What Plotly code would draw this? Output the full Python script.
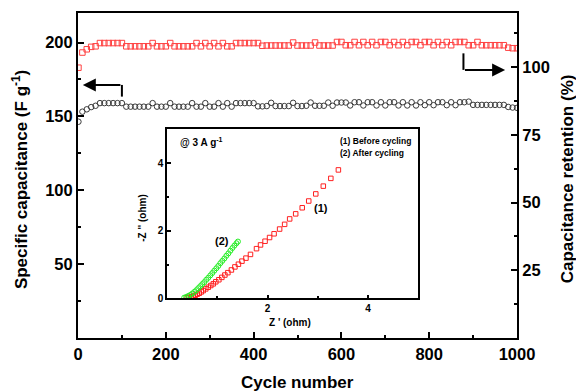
import plotly.graph_objects as go

# ---------------- data ----------------
cycles = [1, 10, 20, 30, 40, 50, 60, 70, 80, 90,
          100, 110, 120, 130, 140, 150, 160, 170, 180, 190,
          200, 210, 220, 230, 240, 250, 260, 270, 280, 290,
          300, 310, 320, 330, 340, 350, 360, 370, 380, 390,
          400, 410, 420, 430, 440, 450, 460, 470, 480, 490,
          500, 510, 520, 530, 540, 550, 560, 570, 580, 590,
          600, 610, 620, 630, 640, 650, 660, 670, 680, 690,
          700, 710, 720, 730, 740, 750, 760, 770, 780, 790,
          800, 810, 820, 830, 840, 850, 860, 870, 880, 890,
          900, 910, 920, 930, 940, 950, 960, 970, 980, 990,
          1000]

capacitance = [146.4, 153.2, 154.8, 156.3, 157.2, 159.0, 159.0, 159.0, 159.0, 159.0,
               159.0, 156.6, 156.6, 156.6, 156.6, 156.6, 156.6, 159.0, 156.6, 156.6,
               156.6, 159.0, 156.6, 156.6, 156.6, 156.6, 159.0, 156.6, 156.6, 159.0,
               156.6, 156.6, 159.0, 156.6, 159.0, 156.6, 159.0, 159.0, 159.0, 159.0,
               159.0, 156.8, 156.8, 157.0, 159.2, 157.0, 157.0, 157.0, 157.0, 159.2,
               157.0, 157.0, 157.2, 159.4, 157.2, 157.2, 157.2, 159.4, 157.2, 159.4,
               159.4, 159.4, 157.4, 159.6, 159.6, 157.4, 159.6, 159.6, 157.4, 159.6,
               157.4, 159.6, 159.6, 157.4, 159.6, 157.4, 159.6, 157.4, 159.6, 157.6,
               159.6, 157.6, 159.6, 159.6, 157.6, 159.6, 157.6, 159.6, 159.6, 160.0,
               157.8, 157.8, 157.8, 157.8, 157.8, 157.8, 157.8, 157.8, 156.4, 156.0,
               155.8]

retention = [99.8, 105.4, 106.6, 107.5, 107.7, 108.9, 108.9, 108.9, 108.9, 108.9,
             108.9, 107.7, 107.7, 107.7, 107.7, 107.7, 107.7, 108.9, 107.7, 107.7,
             107.7, 108.9, 107.7, 107.7, 107.7, 107.7, 107.7, 108.9, 107.7, 108.9,
             107.7, 108.9, 107.7, 108.9, 107.7, 107.7, 108.9, 108.9, 108.9, 108.9,
             108.9, 108.9, 107.9, 108.0, 108.0, 108.0, 108.0, 108.0, 108.0, 109.1,
             108.0, 108.0, 108.0, 108.0, 109.1, 108.0, 108.0, 108.0, 108.0, 109.3,
             109.3, 108.1, 108.1, 109.3, 108.1, 109.3, 108.1, 109.3, 108.1, 109.3,
             109.3, 108.1, 109.3, 108.1, 109.3, 108.1, 109.3, 109.3, 108.1, 109.3,
             109.3, 108.1, 109.3, 108.1, 109.3, 108.1, 109.3, 109.3, 109.3, 108.1,
             108.1, 109.3, 108.1, 108.1, 108.1, 108.1, 108.1, 108.1, 107.2, 107.0,
             107.0]

# Inset: Nyquist data
before_zre = [0.40, 0.44, 0.48, 0.52, 0.56, 0.60, 0.64, 0.68, 0.72, 0.77,
              0.82, 0.87, 0.92, 0.97, 1.03, 1.09, 1.15, 1.21, 1.28, 1.35,
              1.42, 1.49, 1.57, 1.66, 1.78, 1.86, 1.95, 2.04, 2.13, 2.24,
              2.34, 2.44, 2.56, 2.69, 2.82, 2.96, 3.11, 3.26, 3.41]
before_zim = [0.02, 0.03, 0.05, 0.07, 0.09, 0.12, 0.15, 0.19, 0.23, 0.28,
              0.33, 0.38, 0.43, 0.49, 0.55, 0.62, 0.69, 0.76, 0.84, 0.93,
              1.01, 1.10, 1.19, 1.30, 1.47, 1.58, 1.69, 1.80, 1.91, 2.05,
              2.19, 2.35, 2.50, 2.68, 2.88, 3.09, 3.32, 3.55, 3.80]

after_zre = [0.34, 0.38, 0.42, 0.46, 0.50, 0.54, 0.58, 0.62, 0.66, 0.70,
             0.74, 0.78, 0.82, 0.86, 0.90, 0.94, 0.98, 1.02, 1.06, 1.10,
             1.14, 1.18, 1.22, 1.26, 1.30, 1.34, 1.38, 1.41]
after_zim = [0.02, 0.04, 0.07, 0.10, 0.14, 0.19, 0.24, 0.30, 0.36, 0.42,
             0.48, 0.55, 0.61, 0.68, 0.75, 0.82, 0.89, 0.96, 1.04, 1.11,
             1.18, 1.26, 1.33, 1.41, 1.49, 1.56, 1.63, 1.68]

x_ticks = [0, 200, 400, 600, 800, 1000]
y1_ticks = [50, 100, 150, 200]
y2_ticks = [25, 50, 75, 100]

FONT = "Liberation Sans"

fig = go.Figure()

fig.add_trace(go.Scatter(x=cycles, y=capacitance, mode="markers",
                         marker=dict(symbol="circle-open", size=5.5, color="#3a3a3a",
                                     line=dict(width=1, color="#3a3a3a")),
                         xaxis="x", yaxis="y", showlegend=False))
fig.add_trace(go.Scatter(x=cycles, y=retention, mode="markers",
                         marker=dict(symbol="square-open", size=5.5, color="#ff4040",
                                     line=dict(width=1, color="#ff4040")),
                         xaxis="x", yaxis="y2", showlegend=False))
fig.add_trace(go.Scatter(x=before_zre, y=before_zim, mode="markers",
                         marker=dict(symbol="square-open", size=4.5, color="#ff2020",
                                     line=dict(width=1, color="#ff2020")),
                         xaxis="x3", yaxis="y3", showlegend=False))
fig.add_trace(go.Scatter(x=after_zre, y=after_zim, mode="markers",
                         marker=dict(symbol="circle-open", size=5, color="#22ee22",
                                     line=dict(width=1, color="#22ee22")),
                         xaxis="x3", yaxis="y3", showlegend=False))

tickfont_main = dict(family=FONT, size=16.5, color="black", weight="bold")
tickfont_in = dict(family=FONT, size=10, color="black", weight="bold")

fig.update_layout(
    width=576, height=392,
    margin=dict(l=78, r=59, t=13, b=54),
    paper_bgcolor="white", plot_bgcolor="white",
    xaxis=dict(range=[0, 1000], tickvals=x_ticks, ticks="inside", ticklen=6, tickwidth=2,
               minor=dict(dtick=100, tick0=0, ticks="inside", ticklen=3, tickwidth=2),
               showline=True, linewidth=2, linecolor="black", mirror=True,
               showgrid=False, zeroline=False, tickfont=tickfont_main, tickcolor="black"),
    yaxis=dict(range=[0, 220], tickvals=y1_ticks, ticks="inside", ticklen=6, tickwidth=2,
               minor=dict(dtick=25, tick0=0, ticks="inside", ticklen=3, tickwidth=2),
               showline=True, linewidth=2, linecolor="black",
               showgrid=False, zeroline=False, tickfont=tickfont_main, tickcolor="black"),
    yaxis2=dict(range=[0, 120], tickvals=y2_ticks, ticks="inside", ticklen=6, tickwidth=2,
                minor=dict(dtick=12.5, tick0=0, ticks="inside", ticklen=3, tickwidth=2),
                overlaying="y", side="right", anchor="x",
                showline=True, linewidth=2, linecolor="black",
                showgrid=False, zeroline=False, tickfont=tickfont_main, tickcolor="black"),
    xaxis3=dict(domain=[0.203, 0.775], anchor="y3", range=[0, 5],
                tickvals=[0, 2, 4], ticktext=["", "2", "4"],
                ticks="inside", ticklen=4, tickwidth=1.5,
                minor=dict(dtick=1, tick0=0, ticks="inside", ticklen=2.5, tickwidth=1.5),
                showline=True, linewidth=1.5, linecolor="black", mirror=True,
                showgrid=False, zeroline=False, tickfont=tickfont_in, tickcolor="black"),
    yaxis3=dict(domain=[0.122, 0.642], anchor="x3", range=[0, 5],
                tickvals=[0, 2, 4], ticks="inside", ticklen=4, tickwidth=1.5,
                minor=dict(dtick=1, tick0=0, ticks="inside", ticklen=2.5, tickwidth=1.5),
                showline=True, linewidth=1.5, linecolor="black", mirror=True,
                showgrid=False, zeroline=False, tickfont=tickfont_in, tickcolor="black"),
)

bold17 = dict(family=FONT, size=17, color="black", weight="bold")
annotations = [
    dict(text="Cycle number", xref="paper", yref="paper", x=0.499, y=-0.138,
         showarrow=False, font=bold17, xanchor="center", yanchor="middle"),
    dict(text="Specific capacitance (F g<sup>-1</sup>)", xref="paper", yref="paper",
         x=-0.132, y=0.486, textangle=-90, showarrow=False, font=bold17,
         xanchor="center", yanchor="middle"),
    dict(text="Capacitance retention (%)", xref="paper", yref="paper",
         x=1.116, y=0.491, textangle=-90, showarrow=False, font=bold17,
         xanchor="center", yanchor="middle"),
    dict(text="Z ' (ohm)", xref="paper", yref="paper", x=0.483, y=0.047,
         showarrow=False, font=dict(family=FONT, size=10, color="black", weight="bold"),
         xanchor="center", yanchor="middle"),
    dict(text="-Z '' (ohm)", xref="paper", yref="paper", x=0.145, y=0.369,
         textangle=-90, showarrow=False,
         font=dict(family=FONT, size=10, color="black", weight="bold"),
         xanchor="center", yanchor="middle"),
    dict(text="@ 3 A g<sup>-1</sup>", xref="x3", yref="y3", x=0.22, y=4.64,
         showarrow=False, font=dict(family=FONT, size=10, color="black", weight="bold"),
         xanchor="left", yanchor="middle"),
    dict(text="(1) Before cycling", xref="x3", yref="y3", x=3.40, y=4.67,
         showarrow=False, font=dict(family=FONT, size=8.5, color="black", weight="bold"),
         xanchor="left", yanchor="middle"),
    dict(text="(2) After cycling", xref="x3", yref="y3", x=3.40, y=4.31,
         showarrow=False, font=dict(family=FONT, size=8.5, color="black", weight="bold"),
         xanchor="left", yanchor="middle"),
    dict(text="(1)", xref="x3", yref="y3", x=3.07, y=2.68,
         showarrow=False, font=dict(family=FONT, size=11, color="black", weight="bold"),
         xanchor="center", yanchor="middle"),
    dict(text="(2)", xref="x3", yref="y3", x=1.09, y=1.71,
         showarrow=False, font=dict(family=FONT, size=11, color="black", weight="bold"),
         xanchor="center", yanchor="middle"),
    # arrows
    dict(text="", xref="x", yref="y", axref="x", ayref="y",
         x=11, y=171.3, ax=100, ay=171.3, showarrow=True,
         arrowhead=2, arrowsize=1.3, arrowwidth=2, arrowcolor="black", standoff=0),
    dict(text="", xref="x", yref="y2", axref="x", ayref="y2",
         x=973, y=99.0, ax=878, ay=99.0, showarrow=True,
         arrowhead=2, arrowsize=1.3, arrowwidth=2, arrowcolor="black", standoff=0),
]
fig.update_layout(annotations=annotations)

fig.add_shape(type="line", xref="x", yref="y", x0=100, x1=100, y0=163.4, y1=171.3,
              line=dict(color="black", width=2))
fig.add_shape(type="line", xref="x", yref="y2", x0=878, x1=878, y0=99.0, y1=105.1,
              line=dict(color="black", width=2))

fig.write_html("out.html", config={"displayModeBar": False},
               post_script="document.body.style.margin='0';document.body.style.overflow='hidden';")
